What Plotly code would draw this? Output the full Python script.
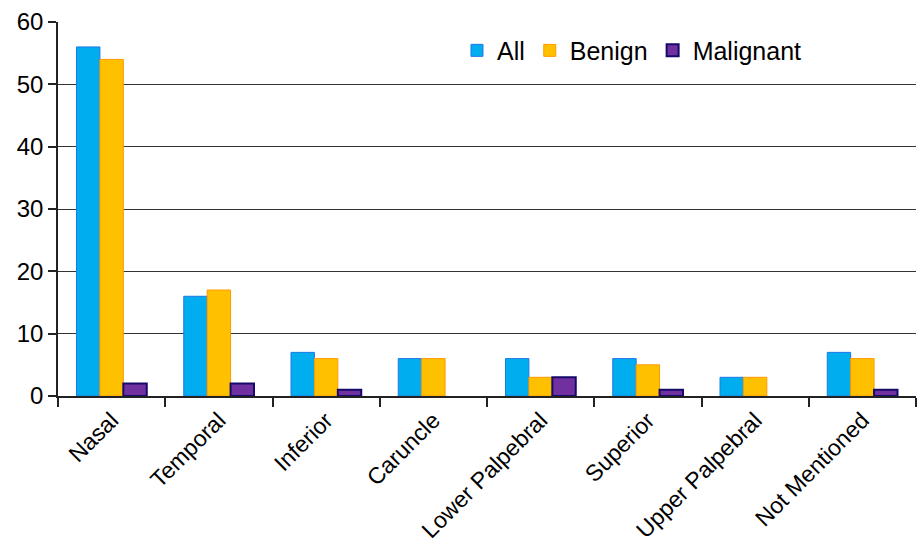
import plotly.graph_objects as go

categories = ["Nasal", "Temporal", "Inferior", "Caruncle", "Lower Palpebral",
              "Superior", "Upper Palpebral", "Not Mentioned"]
all_vals = [56, 16, 7, 6, 6, 6, 3, 7]
benign_vals = [54, 17, 6, 6, 3, 5, 3, 6]
malignant_vals = [2, 2, 1, 0, 3, 1, 0, 1]
y_ticks = [0, 10, 20, 30, 40, 50, 60]

def outline(vals, w):
    return [w if v > 0 else 0 for v in vals]

fig = go.Figure()
fig.add_bar(name="All", x=categories, y=all_vals,
            marker=dict(color="#00AEEF", line=dict(color="#1E78E6", width=outline(all_vals, 1))))
fig.add_bar(name="Benign", x=categories, y=benign_vals,
            marker=dict(color="#FFC000", line=dict(color="#FF9A00", width=outline(benign_vals, 1))))
fig.add_bar(name="Malignant", x=categories, y=malignant_vals,
            marker=dict(color="#7030A0", line=dict(color="#150A6A", width=outline(malignant_vals, 2))))

font = "Liberation Sans, Arial, sans-serif"
fig.update_layout(
    width=920, height=554,
    margin=dict(l=58, r=4, t=22, b=158),
    plot_bgcolor="white", paper_bgcolor="white",
    barmode="group", bargap=0.345, bargroupgap=0,
    font=dict(family=font, size=20, color="black"),
    showlegend=True,
    legend=dict(orientation="h", x=0.465, y=0.985, xanchor="left", yanchor="top",
                font=dict(size=25), bgcolor="rgba(0,0,0,0)", itemwidth=30,
                traceorder="normal"),
    xaxis=dict(showline=True, linecolor="#222", linewidth=1.5,
               ticks="outside", ticklen=9, tickcolor="#222", tickwidth=1.5,
               tickson="boundaries", tickangle=-45,
               tickfont=dict(size=23), showgrid=False),
    yaxis=dict(range=[0, 60], tickvals=y_ticks, showline=True, linecolor="#222",
               linewidth=1.5, ticks="outside", ticklen=8, tickcolor="#222",
               tickwidth=1.5, showgrid=True, gridcolor="#333", gridwidth=1,
               tickfont=dict(size=24), zeroline=False),
)
fig.write_html("out.html")
